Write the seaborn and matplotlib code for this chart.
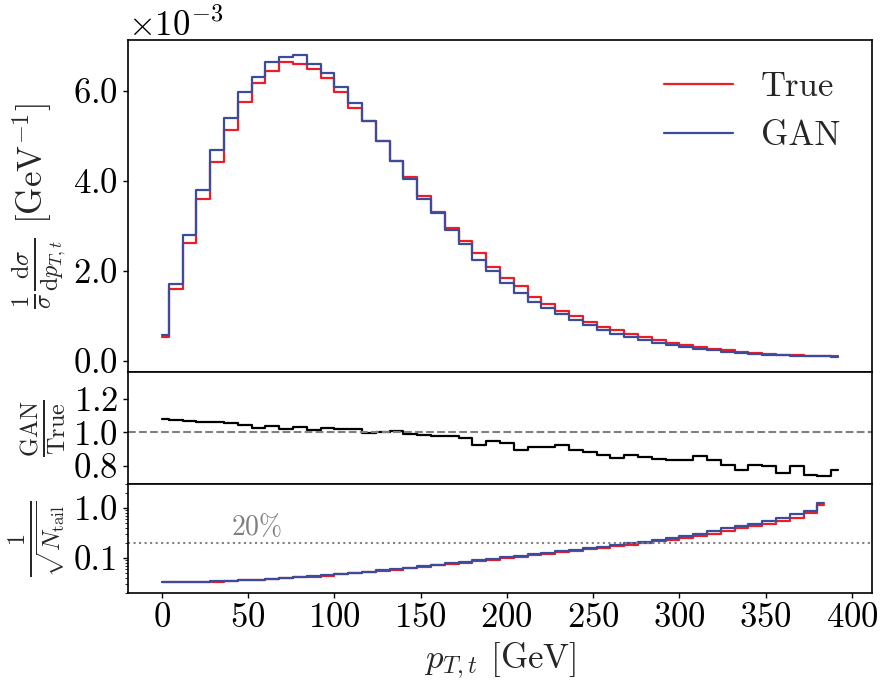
import numpy as np
import pandas as pd
import seaborn as sns
import matplotlib
matplotlib.use("Agg")
import matplotlib.pyplot as plt
from matplotlib.ticker import ScalarFormatter, FixedLocator, FixedFormatter, LogLocator, NullFormatter

# bin positions (GeV) and values
pt = np.arange(0, 400, 8)

# normalised distribution, in units of 1e-3 GeV^-1
true_hist = [0.54, 1.61, 2.63, 3.60, 4.43, 5.13, 5.75, 6.17, 6.44, 6.65,
             6.61, 6.50, 6.28, 5.98, 5.63, 5.33, 4.89, 4.44, 4.10, 3.67,
             3.32, 2.96, 2.67, 2.41, 2.10, 1.84, 1.67, 1.43, 1.27, 1.11,
             1.00, 0.87, 0.76, 0.69, 0.60, 0.53, 0.47, 0.41, 0.36, 0.31,
             0.27, 0.24, 0.21, 0.18, 0.16, 0.14, 0.13, 0.12, 0.11, 0.10]
gan_hist = [0.58, 1.71, 2.80, 3.80, 4.70, 5.41, 5.97, 6.32, 6.64, 6.76,
            6.80, 6.60, 6.41, 6.08, 5.73, 5.33, 4.89, 4.44, 4.04, 3.61,
            3.28, 2.91, 2.59, 2.24, 1.99, 1.73, 1.52, 1.32, 1.18, 1.04,
            0.91, 0.80, 0.69, 0.61, 0.54, 0.47, 0.41, 0.36, 0.32, 0.27,
            0.24, 0.21, 0.18, 0.16, 0.14, 0.13, 0.12, 0.11, 0.10, 0.09]

# GAN / True
ratio = [1.077, 1.072, 1.068, 1.058, 1.058, 1.055, 1.042, 1.028, 1.036, 1.018,
         1.032, 1.016, 1.024, 1.020, 1.018, 0.996, 1.004, 1.006, 0.990, 0.982,
         0.980, 0.976, 0.966, 0.921, 0.945, 0.933, 0.896, 0.909, 0.911, 0.921,
         0.894, 0.882, 0.866, 0.844, 0.864, 0.850, 0.840, 0.832, 0.834, 0.859,
         0.834, 0.806, 0.772, 0.804, 0.796, 0.758, 0.800, 0.745, 0.735, 0.776]

# 1/sqrt(N_tail), one bin shorter
tail_true = [0.0325, 0.0327, 0.0330, 0.0334, 0.0339, 0.0347, 0.0356, 0.0367, 0.0379, 0.0393,
             0.0409, 0.0427, 0.0447, 0.0470, 0.0496, 0.0524, 0.0555, 0.0589, 0.0627, 0.0668,
             0.0712, 0.0760, 0.0812, 0.0867, 0.0926, 0.0990, 0.106, 0.113, 0.121, 0.129,
             0.138, 0.148, 0.159, 0.171, 0.184, 0.198, 0.214, 0.233, 0.256, 0.275,
             0.307, 0.346, 0.39, 0.433, 0.48, 0.54, 0.635, 0.78, 1.13]
tail_gan = [0.0325, 0.0327, 0.0330, 0.0334, 0.0340, 0.0348, 0.0358, 0.0369, 0.0382, 0.0397,
            0.0414, 0.0433, 0.0454, 0.0478, 0.0505, 0.0535, 0.0568, 0.0604, 0.0644, 0.0688,
            0.0735, 0.0786, 0.0841, 0.0900, 0.0963, 0.103, 0.110, 0.118, 0.126, 0.135,
            0.145, 0.156, 0.168, 0.181, 0.196, 0.212, 0.230, 0.251, 0.275, 0.307,
            0.346, 0.39, 0.433, 0.48, 0.54, 0.635, 0.74, 0.88, 1.25]

red = "#ee1c25"
blue = "#3a4d9c"
fs = 25

sns.set_style("ticks")
plt.rcParams["font.family"] = ["cmr10", "DejaVu Serif"]
plt.rcParams["mathtext.fontset"] = "cm"
plt.rcParams["axes.formatter.use_mathtext"] = True
plt.rcParams["axes.unicode_minus"] = True
plt.rcParams["axes.linewidth"] = 1.2
plt.rcParams["axes.edgecolor"] = "black"
plt.rcParams["xtick.color"] = "black"
plt.rcParams["ytick.color"] = "black"


class OneDecimal(ScalarFormatter):
    def _set_format(self):
        self.format = r"$\mathdefault{%1.1f}$"


fig = plt.figure(figsize=(8.87, 6.97), dpi=100)
gs = fig.add_gridspec(3, 1, height_ratios=[332, 112, 109], hspace=0,
                      left=0.1443, right=0.983, top=0.9426, bottom=0.1492)
ax1 = fig.add_subplot(gs[0])
ax2 = fig.add_subplot(gs[1], sharex=ax1)
ax3 = fig.add_subplot(gs[2], sharex=ax1)

top = pd.DataFrame({"pt": pt,
                    "True": np.array(true_hist) * 1e-3,
                    "GAN": np.array(gan_hist) * 1e-3})
sns.lineplot(data=top, x="pt", y="True", ax=ax1, color=red, lw=1.6,
             drawstyle="steps-mid", label="True", estimator=None)
sns.lineplot(data=top, x="pt", y="GAN", ax=ax1, color=blue, lw=1.6,
             drawstyle="steps-mid", label="GAN", estimator=None)
ax1.legend(frameon=False, loc="upper right", fontsize=fs)
fmt = OneDecimal(useMathText=True)
fmt.set_powerlimits((-2, 2))
ax1.yaxis.set_major_formatter(fmt)
ax1.set_yticks([0, 0.002, 0.004, 0.006])
ax1.yaxis.get_offset_text().set_fontsize(fs)
ax1.set_ylabel(r"$\frac{1}{\sigma}\frac{\mathrm{d}\sigma}{\mathrm{d}p_{T,t}}$ [GeV$^{-1}$]",
               fontsize=fs)

sns.lineplot(x=pt, y=ratio, ax=ax2, color="black", lw=1.6,
             drawstyle="steps-mid", estimator=None)
ax2.axhline(1.0, color="grey", ls="--", lw=1.5)
ax2.set_ylim(0.69, 1.36)
ax2.set_yticks([0.8, 1.0, 1.2])
ax2.set_ylabel(r"$\frac{\mathrm{GAN}}{\mathrm{True}}$", fontsize=fs)

sns.lineplot(x=pt[:-1], y=tail_true, ax=ax3, color=red, lw=1.6,
             drawstyle="steps-mid", estimator=None)
sns.lineplot(x=pt[:-1], y=tail_gan, ax=ax3, color=blue, lw=1.6,
             drawstyle="steps-mid", estimator=None)
ax3.axhline(0.2, color="grey", ls=":", lw=1.5)
ax3.text(40, 0.215, r"$20\%$", color="grey", fontsize=20, va="bottom")
ax3.set_yscale("log")
ax3.set_ylim(0.02, 3.0)
ax3.yaxis.set_major_locator(FixedLocator([0.1, 1.0]))
ax3.yaxis.set_major_formatter(FixedFormatter(["0.1", "1.0"]))
ax3.yaxis.set_minor_locator(LogLocator(base=10, subs=np.arange(2, 10)))
ax3.yaxis.set_minor_formatter(NullFormatter())
ax3.set_ylabel(r"$\frac{1}{\sqrt{N_\mathrm{tail}}}$", fontsize=fs)
ax3.set_xlabel(r"$p_{T,t}$ [GeV]", fontsize=fs)
ax3.set_xticks(np.arange(0, 401, 50))

for ax in (ax1, ax2, ax3):
    ax.tick_params(labelsize=fs, width=1.0)
    ax.set_xlabel(ax.get_xlabel(), fontsize=fs)
plt.setp(ax1.get_xticklabels(), visible=False)
plt.setp(ax2.get_xticklabels(), visible=False)
ax1.set_xlabel("")
ax2.set_xlabel("")
fig.align_ylabels([ax1, ax2, ax3])

fig.savefig("out.png", dpi=100)
